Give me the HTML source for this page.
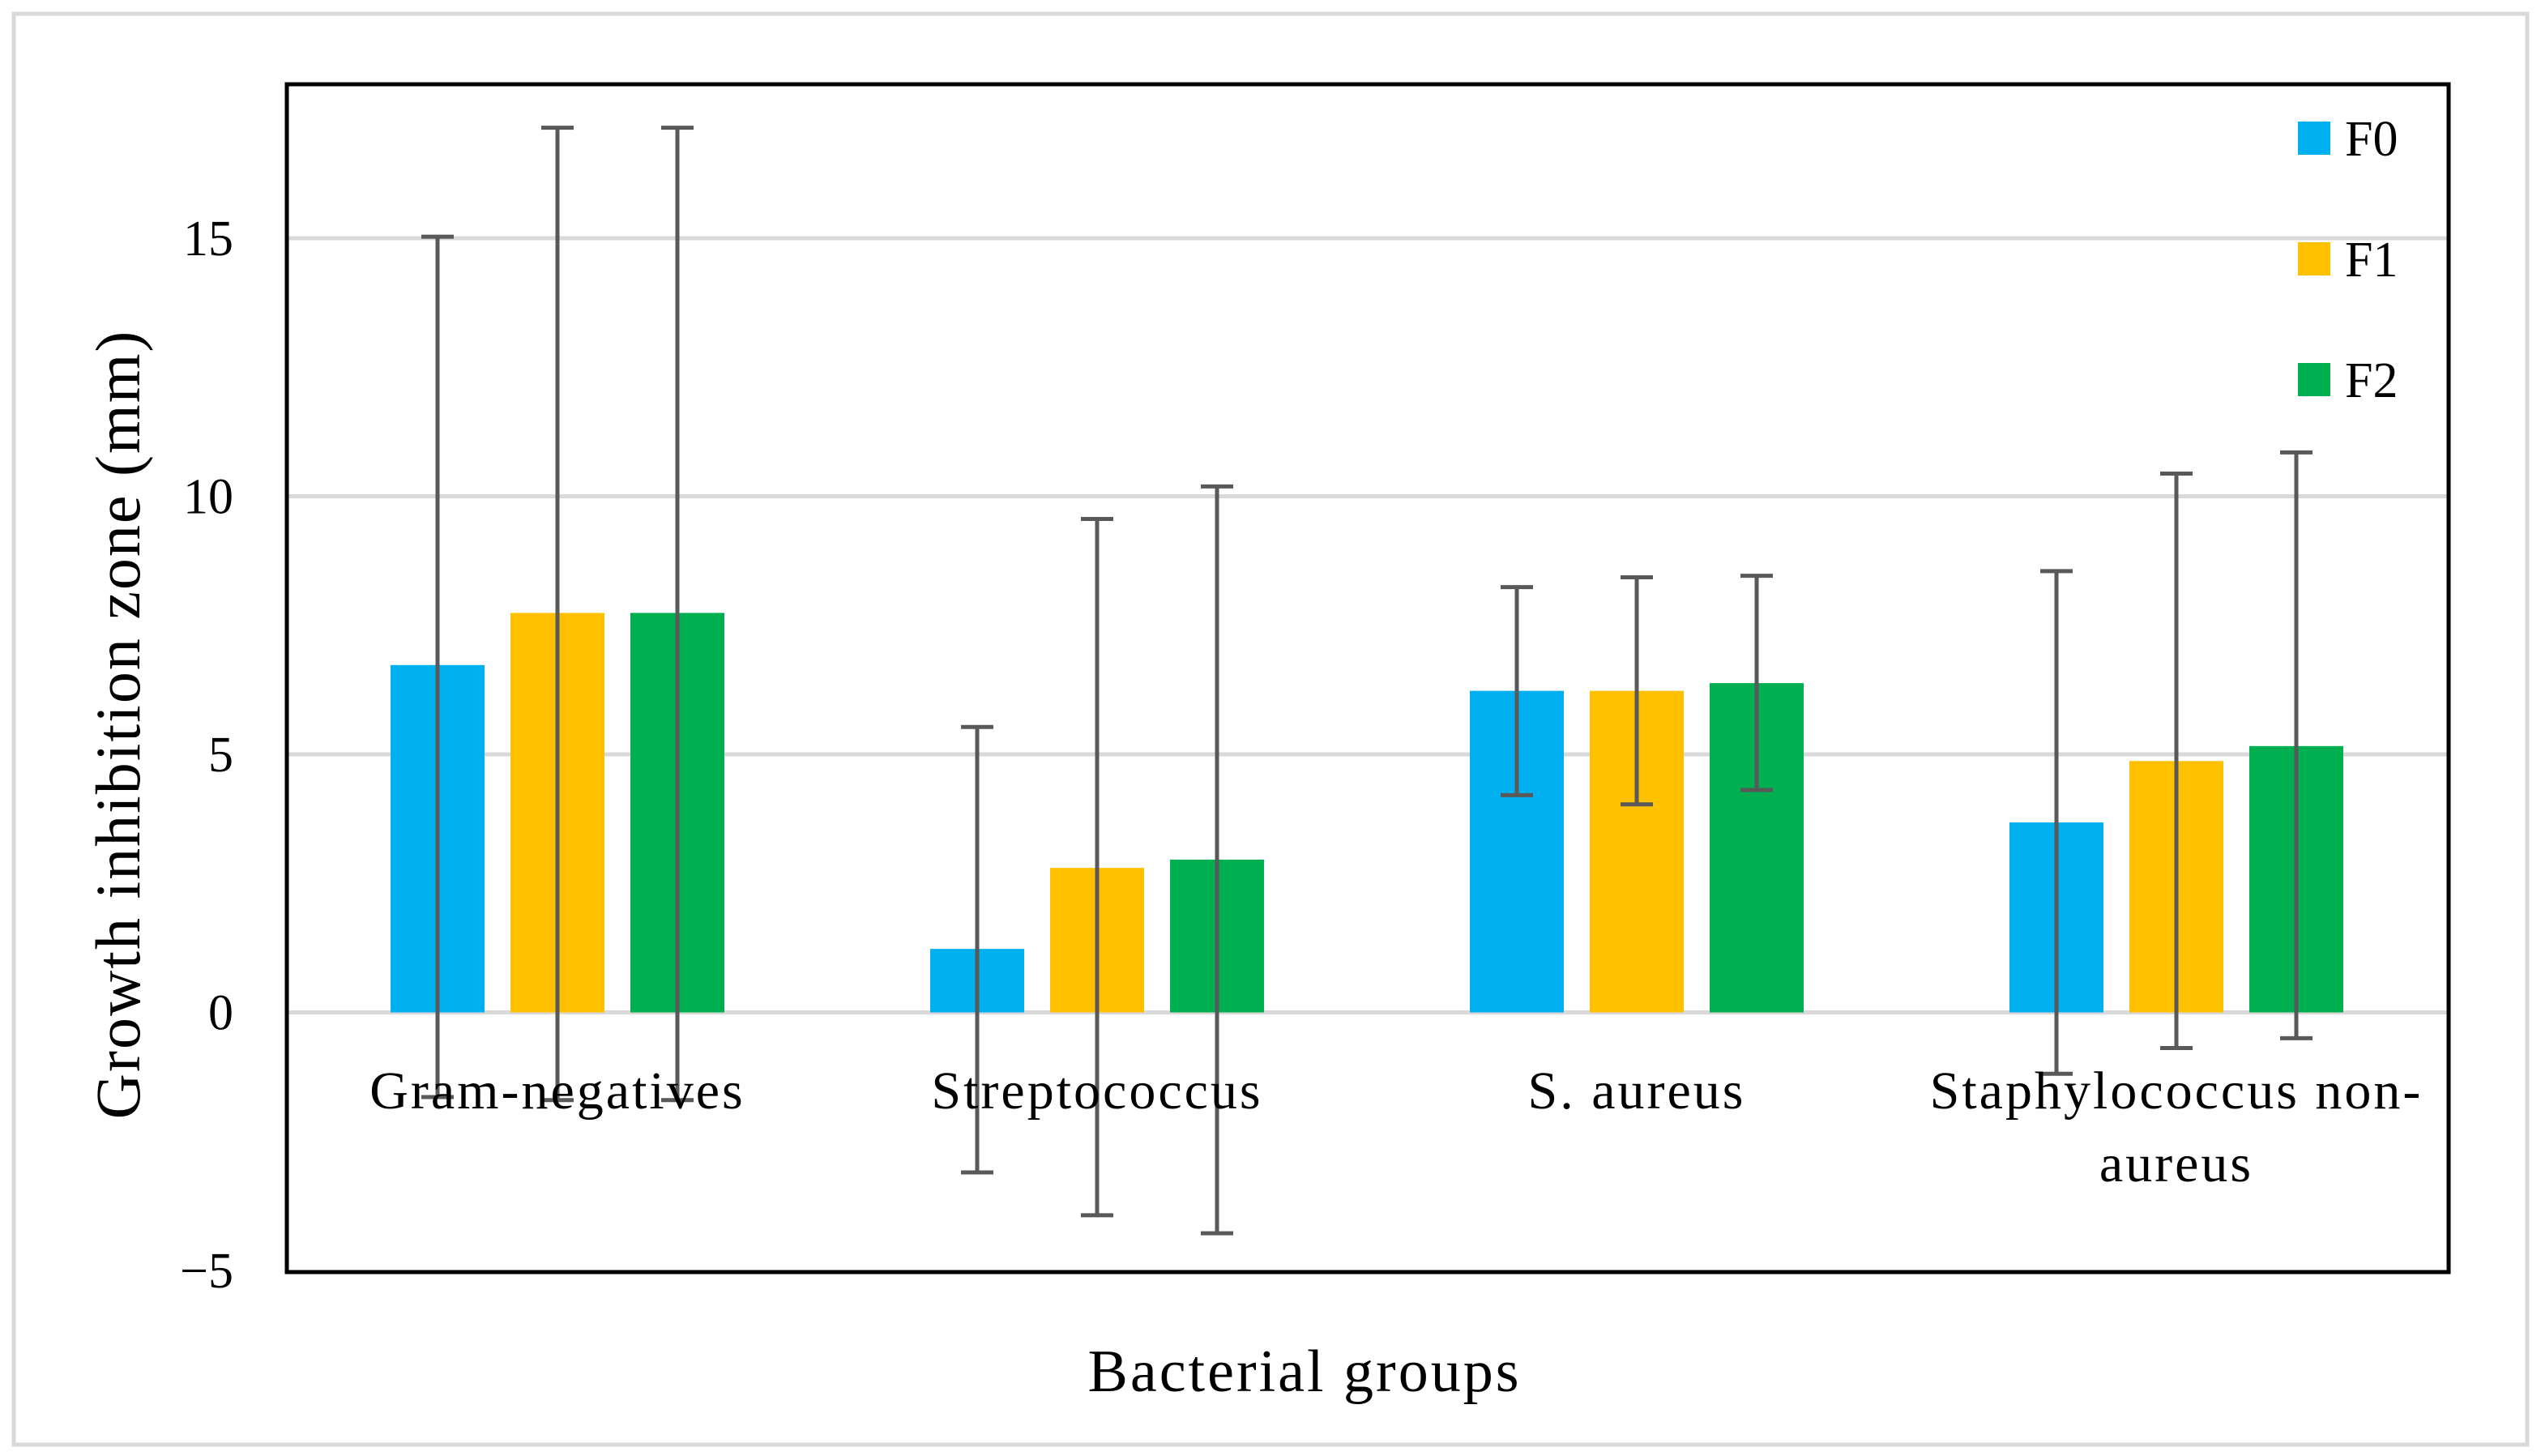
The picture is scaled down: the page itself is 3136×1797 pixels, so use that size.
<!DOCTYPE html>
<html><head><meta charset="utf-8"><style>
html,body{margin:0;padding:0;background:#fff;}
svg{display:block;font-family:"Liberation Serif",serif;}
</style></head><body>
<svg id="chart" width="3136" height="1797" viewBox="0 0 3136 1797" xmlns="http://www.w3.org/2000/svg">
<rect x="17" y="17" width="3102" height="1766" fill="#fff" stroke="#d9d9d9" stroke-width="5"/>
<g id="grid"></g>
<g id="bars"></g>
<g id="errs"></g>
<rect x="354" y="104" width="2668" height="1466" fill="none" stroke="#000" stroke-width="5"/>
<g id="ticks" font-size="62" fill="#000"></g>
<g id="cats" font-size="66" fill="#000" text-anchor="middle" letter-spacing="3"></g>
<text x="1610" y="1717" font-size="74" letter-spacing="3" text-anchor="middle">Bacterial groups</text>
<text transform="translate(172,894) rotate(-90)" font-size="78" letter-spacing="2" text-anchor="middle">Growth inhibition zone (mm)</text>
<g id="legend" font-size="62"></g>
</svg>
<script>
const categories = ["Gram-negatives","Streptococcus","S. aureus","Staphylococcus non-aureus"];
const seriesNames = ["F0","F1","F2"];
const f0 = [6.73, 1.23, 6.23, 3.68];
const f1 = [7.74, 2.80, 6.23, 4.87];
const f2 = [7.74, 2.96, 6.38, 5.16];
const f0Hi = [15.03, 5.53, 8.24, 8.55];
const f0Lo = [-1.64, -3.10, 4.21, -1.19];
const f1Hi = [17.14, 9.56, 8.43, 10.44];
const f1Lo = [-1.70, -3.93, 4.03, -0.69];
const f2Hi = [17.14, 10.19, 8.46, 10.85];
const f2Lo = [-1.70, -4.28, 4.31, -0.50];
const yTicks = [-5, 0, 5, 10, 15];
const yTickLabels = ["\u22125","0","5","10","15"];

const colors = ["#00b0f0","#ffc000","#00b050"];
const NS = "http://www.w3.org/2000/svg";
const yMin=-5;
const y = v => 1568 - (v - yMin) * (1568 - 294) / 20;
const groupX = i => 688 + i * 666;
const barOff = j => (j - 1) * 148;
const barW = 116;
function mk(tag, attrs, parent){const e=document.createElementNS(NS,tag);for(const k in attrs)e.setAttribute(k,attrs[k]);parent.appendChild(e);return e;}

const grid=document.getElementById('grid');
yTicks.forEach((t,i)=>{
  if(t<=-5) return;
  const l=mk('line',{x1:354,x2:3022,y1:y(t),y2:y(t),stroke:'#d9d9d9','stroke-width':5},grid);
  
  
});
const ticks=document.getElementById('ticks');
yTicks.forEach((t,i)=>{
  const tx=mk('text',{x:288,y:y(t)+21,'text-anchor':'end'},ticks);
  tx.textContent=yTickLabels[i];
  
  
});
const series=[f0,f1,f2], his=[f0Hi,f1Hi,f2Hi], los=[f0Lo,f1Lo,f2Lo];
const bars=document.getElementById('bars'), errs=document.getElementById('errs');
categories.forEach((c,i)=>{
  series.forEach((s,j)=>{
    const cx=groupX(i)+barOff(j);
    const top=Math.min(y(s[i]),y(0)), h=Math.abs(y(0)-y(s[i]));
    const r=mk('rect',{x:cx-barW/2,y:top,width:barW,height:h,fill:colors[j]},bars);
    
    
    const g=mk('g',{stroke:'#595959','stroke-width':5},errs);
    
    
    mk('line',{x1:cx,x2:cx,y1:y(his[j][i]),y2:y(los[j][i])},g);
    mk('line',{x1:cx-20,x2:cx+20,y1:y(his[j][i]),y2:y(his[j][i])},g);
    mk('line',{x1:cx-20,x2:cx+20,y1:y(los[j][i]),y2:y(los[j][i])},g);
  });
});
const cats=document.getElementById('cats');
const catLines=[["Gram-negatives"],["Streptococcus"],["S. aureus"],["Staphylococcus non-","aureus"]];
catLines.forEach((lines,i)=>{
  lines.forEach((ln,k)=>{
    const t=mk('text',{x:groupX(i),y:1368+k*90},cats);
    t.textContent=ln;
    
    
  });
});
const lg=document.getElementById('legend');
seriesNames.forEach((n,j)=>{
  const yy=150+j*149;
  const g=mk('g',{},lg);
  
  
  mk('rect',{x:2836,y:yy,width:40,height:41,fill:colors[j]},g);
  const t=mk('text',{x:2894,y:yy+42},g);
  t.textContent=n;
});
</script>
</body></html>
